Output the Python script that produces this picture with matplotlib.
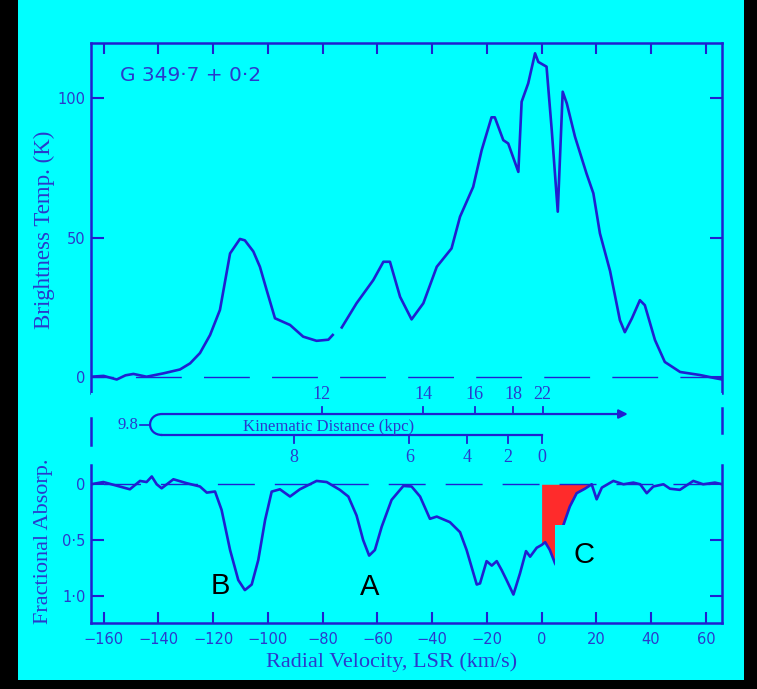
import numpy as np
import matplotlib.pyplot as plt
from matplotlib.patches import Rectangle, PathPatch
from matplotlib.path import Path

nan = np.nan

# brightness temperature spectrum (upper panel)
vel_tb = [-164.6, -160, -155.2, -152, -149.1, -144.3, -138.2, -132.1, -128.4, -124.8,
          -121.1, -117.5, -113.8, -110.2, -108.4, -105.3, -102.9, -100.4, -97.4, -91.9,
          -87.1, -82.2, -77.9, -76.3, nan, -73.0, -67.6, -61.5, -57.8, -55.4,
          -51.7, -47.5, -43.2, -38.3, -32.9, -29.8, -25.0, -21.9, -18.3, -17.1,
          -14.0, -12.2, -8.5, -7.3, -4.9, -2.4, -1.2, 1.8, 3.7, 5.9,
          7.7, 9.2, 12.2, 16.4, 18.9, 21.3, 25.0, 28.6, 30.4, 33.0,
          35.9, 37.7, 41.4, 45.0, 50.6, 57.9, 63.3, 66.0]
tb = [0, 0.3, -1, 0.5, 1, 0, 1.2, 2.6, 4.8, 8.5,
      15, 24, 44.3, 49.5, 49, 45, 39.5, 31, 21, 18.6,
      14.4, 12.9, 13.3, 15, nan, 17.7, 26.4, 34.7, 41.3, 41.3,
      28.7, 20.6, 26.4, 39.5, 46.1, 57.5, 68.2, 81.4, 93.2, 93.2,
      85, 83.8, 73.6, 98.8, 105.4, 116.2, 113.1, 111.4, 88.6, 59.3,
      102.4, 98.2, 86.2, 73, 65.9, 51.5, 38, 20.3, 16, 21,
      27.5, 25.7, 13.2, 5.3, 1.7, 0.6, -0.5, -1]

# fractional absorption spectrum (lower panel)
vel_abs = [-164.6, -160.1, -150.4, -146.7, -144.3, -142.4, -140.6, -138.8, -134.5, -129.7,
           -124.8, -122.3, -119.3, -116.9, -113.8, -110.8, -108.4, -105.9, -103.5, -101.0,
           -98.6, -95.6, -91.9, -88.3, -82.2, -78.5, -73.7, -70.6, -67.6, -65.2,
           -63.0, -60.9, -58.4, -54.8, -50.5, -47.5, -44.4, -40.8, -38.3, -33.5,
           -29.8, -27.4, -23.7, -22.5, -20.1, -18.2, -16.4, -14.6, -12.8, -10.3,
           -7.9, -5.7, -4.2, -1.8, 0.0, 1.3, 3.0, 4.9, 5.6, 6.6,
           7.9, 10.3, 12.8, 15.8, 18.3, 20.1, 22.0, 26.2, 29.9, 33.5,
           36.0, 38.4, 40.8, 44.5, 46.9, 50.5, 55.4, 59.0, 63.3, 66.0]
absorb = [0, -0.02, 0.045, -0.03, -0.02, -0.07, 0.0, 0.036, -0.045, -0.01,
          0.02, 0.075, 0.065, 0.23, 0.59, 0.86, 0.95, 0.90, 0.68, 0.32,
          0.066, 0.045, 0.11, 0.045, -0.03, -0.02, 0.05, 0.11, 0.28, 0.50,
          0.64, 0.59, 0.38, 0.14, 0.015, 0.02, 0.11, 0.31, 0.29, 0.34,
          0.43, 0.59, 0.90, 0.89, 0.69, 0.73, 0.69, 0.77, 0.86, 0.99,
          0.80, 0.60, 0.65, 0.57, 0.545, 0.52, 0.59, 0.71, 0.74, 0.60,
          0.37, 0.20, 0.08, 0.04, 0.0, 0.135, 0.03, -0.03, 0.0, -0.015,
          0.0, 0.08, 0.02, 0.0, 0.04, 0.05, -0.03, 0.0, -0.015, 0.0]

# kinematic distance scale
far_vel = [-80.4, -43.2, -24.4, -10.4, 0.4]
far_lab = ['12', '14', '16', '18', '22']
near_vel = [-90.5, -48.3, -27.1, -12.3, 0.0]
near_lab = ['8', '6', '4', '2', '0']

xticks = [-160, -140, -120, -100, -80, -60, -40, -20, 0, 20, 40, 60]
tb_ticks = [0, 50, 100]
abs_ticks = [0, 0.5, 1.0]
abs_labels = ['0', '0·5', '1·0']

CYAN = '#00ffff'
BLUE = '#2020d0'
TXT = '#2a3acc'
SERIF = 'Liberation Serif'
XLIM = (-164.6, 66.0)

fig = plt.figure(figsize=(7.57, 6.89), dpi=100, facecolor='black')
fig.add_artist(Rectangle((18 / 757, 9 / 689), 726 / 757, 680 / 689, transform=fig.transFigure,
                         facecolor=CYAN, edgecolor='none', zorder=-5))

W, H = 757, 689
ax1 = fig.add_axes([91 / W, 1 - 393 / H, 631.3 / W, 349.7 / H])
ax2 = fig.add_axes([91 / W, 1 - 465 / H, 631.3 / W, 72 / H])
ax3 = fig.add_axes([91 / W, 1 - 623.3 / H, 631.3 / W, 158.3 / H])

for ax in (ax1, ax2, ax3):
    ax.set_facecolor(CYAN)
    ax.set_xlim(*XLIM)
    for s in ax.spines.values():
        s.set_color(BLUE)
        s.set_linewidth(1.8)

# upper panel
ax1.plot(vel_tb, tb, color=BLUE, lw=1.9, zorder=3)
ax1.axhline(0, color=BLUE, lw=1, ls=(17, (33, 16)), zorder=2)
ax1.set_ylim(-5.85, 119.8)
ax1.spines['bottom'].set_visible(False)
ax1.set_xticks(xticks)
ax1.tick_params(axis='x', top=True, bottom=False, labelbottom=False, labeltop=False,
                direction='in', length=8, width=1.5, color=BLUE)
ax1.set_yticks(tb_ticks)
ax1.tick_params(axis='y', left=True, right=True, direction='in', length=9, width=1.5,
                color=BLUE, labelcolor=TXT, labelsize=10.5, pad=4)
ax1.text(0.046, 0.909, 'G 349·7 + 0·2', transform=ax1.transAxes, fontsize=14.5,
         color=TXT, ha='left', va='center')

# kinematic distance band
ax2.set_ylim(0, 1)
ax2.set_xticks([])
ax2.set_yticks([])
ax2.spines['top'].set_visible(False)
ax2.spines['bottom'].set_visible(False)
ax2.spines['left'].set_bounds(0.28, 0.65)
ax2.spines['right'].set_bounds(0.44, 0.79)
y_far, y_near = 0.708, 0.417
ax2.annotate('', xy=(31.5, y_far), xytext=(-138.6, y_far),
             arrowprops=dict(arrowstyle='-|>', color=BLUE, lw=1.6, mutation_scale=13,
                             shrinkA=0, shrinkB=0))
ax2.plot([-138.6, near_vel[-1]], [y_near, y_near], color=BLUE, lw=1.6)
hook = Path([(-138.6, y_far), (-144.5, y_far), (-144.5, y_near), (-138.6, y_near)],
            [Path.MOVETO, Path.CURVE4, Path.CURVE4, Path.CURVE4])
ax2.add_patch(PathPatch(hook, facecolor='none', edgecolor=BLUE, lw=1.6))
ax2.plot([-146.8, -143.0], [0.56, 0.56], color=BLUE, lw=1.2)
ax2.text(-147.3, 0.56, '9.8', ha='right', va='center', color=TXT, fontsize=12, family=SERIF)
for v, lab in zip(far_vel, far_lab):
    ax2.plot([v, v], [y_far, y_far + 0.1], color=BLUE, lw=1.3)
    ax2.text(v, 0.98, lab, ha='center', va='center', color=TXT, fontsize=13, family=SERIF)
for v, lab in zip(near_vel, near_lab):
    ax2.plot([v, v], [y_near, y_near - 0.11], color=BLUE, lw=1.3)
    ax2.text(v, 0.10, lab, ha='center', va='center', color=TXT, fontsize=13, family=SERIF)
ax2.text(-78, 0.53, 'Kinematic Distance (kpc)', ha='center', va='center', color=TXT,
         fontsize=12, family=SERIF)

# lower panel
va = np.array(vel_abs)
ab = np.array(absorb)
ax3.fill_between(va, 0, ab, where=(va >= 0) & (va <= 18.3), color='#ff2b2b',
                 interpolate=True, lw=0, zorder=2)
ax3.plot(vel_abs, absorb, color=BLUE, lw=1.9, zorder=3)
ax3.axhline(0, color=BLUE, lw=1, ls=(32, (26.6, 14.4)), zorder=2)
ax3.set_ylim(1.248, -0.173)
ax3.spines['top'].set_visible(False)
ax3.set_xticks(xticks)
ax3.tick_params(axis='x', top=False, bottom=True, direction='in', length=8, width=1.5,
                color=BLUE, labelcolor=TXT, labelsize=10.5, pad=6)
ax3.set_yticks(abs_ticks)
ax3.set_yticklabels(abs_labels)
ax3.tick_params(axis='y', left=True, right=True, direction='in', length=9, width=1.5,
                color=BLUE, labelcolor=TXT, labelsize=10.5, pad=4)

ax3.add_patch(Rectangle((4.9, 0.365), 25, 0.6, facecolor=CYAN, edgecolor='none', zorder=4))
for lab, x, y in [('B', -117.5, 0.913), ('A', -63.0, 0.918), ('C', 15.6, 0.635)]:
    ax3.text(x, y, lab, ha='center', va='center', fontsize=21, color='black',
             family='Liberation Sans', zorder=5)

fig.text(44 / W, 1 - 230 / H, 'Brightness Temp. (K)', rotation=90, ha='center', va='center',
         color=TXT, fontsize=16.5, family=SERIF)
fig.text(44 / W, 1 - 541 / H, 'Fractional Absorp.', rotation=90, ha='center', va='center',
         color=TXT, fontsize=16, family=SERIF)
fig.text(392 / W, 1 - 662 / H, 'Radial Velocity, LSR (km/s)', ha='center', va='center',
         color=TXT, fontsize=16, family=SERIF)

fig.savefig('out.png', dpi=100, facecolor=fig.get_facecolor())
